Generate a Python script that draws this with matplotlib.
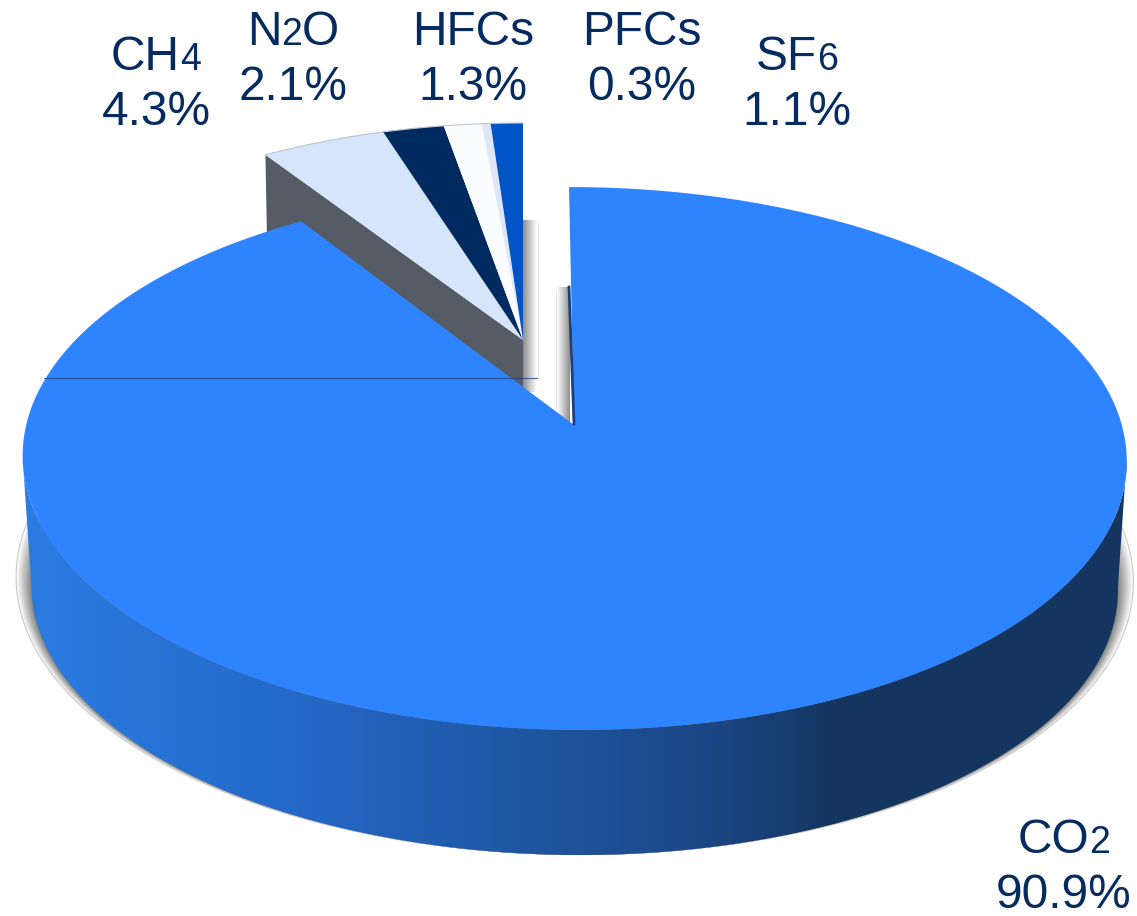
import re
import numpy as np
import matplotlib
matplotlib.use('Agg')
import matplotlib.pyplot as plt
from matplotlib.patches import Polygon
from matplotlib.colors import LinearSegmentedColormap

# ---- data ----
gases = ['CO2', 'CH4', 'N2O', 'HFCs', 'PFCs', 'SF6']
shares = [90.9, 4.3, 2.1, 1.3, 0.3, 1.1]
slice_colors = ['#2E84FF', '#D6E5FB', '#002B60', '#FBFCFE', '#DEE7F8', '#0054C5']
label_centers = [1064, 156, 293, 473, 642, 797]
label_baselines = [853, 70, 45, 45, 45, 70]

# ---- styling / geometry ----
W, H = 1137, 916
TEXT = '#062B60'
FONT = ['Liberation Sans', 'DejaVu Sans']
SIZE, SMALL = 34.5, 27
LINE_GAP = 55


def project(theta, ax0, ay0, bx, by, k, skew=0.0, scale=1.0):
    x, d = np.sin(theta), np.cos(theta)
    s = 1 / (1 + k * d)
    return np.column_stack((ax0 + scale * (bx * x - skew * d) * s,
                            ay0 - scale * by * d * s))


def main_pie(theta, ay0=425.0, scale=1.0):
    return project(theta, 574.0, ay0, 547.8, 267.3, 0.1233, 5.6, scale)


def side_pie(theta):
    return project(theta, 523.0, 340.0, 516.0, 238.7, 0.10)


fig = plt.figure(figsize=(W / 100, H / 100), dpi=100, facecolor='white')
ax = fig.add_axes([0, 0, 1, 1])
ax.set_axis_off()

fracs = np.array(shares) / sum(shares)
edges = np.concatenate(([0], np.cumsum(fracs))) * 2 * np.pi

# ---- soft shadow under the disc (front part only) ----
tt = np.linspace(np.radians(70), np.radians(290), 300)
N = 16
for i in range(N):
    f = i / (N - 1)
    pts = main_pie(tt, ay0=546 + (555 - 546) * f, scale=1.012 + (0.984 - 1.012) * f)
    g = 1.0 - 0.50 * f
    ax.add_patch(Polygon(pts, closed=True, fc=(g, g, g), ec='none', zorder=1))
ax.plot(*main_pie(tt, ay0=546, scale=1.012).T, color='#C8C8C8', lw=0.8, zorder=1)

# ---- disc wall with horizontal gradient ----
wall_cmap = LinearSegmentedColormap.from_list('wall', [
    (0.0, '#2B7CE2'), (0.25, '#2468C8'), (0.47, '#1E559F'),
    (0.63, '#1B4684'), (0.74, '#14355F'), (1.0, '#15365F')])
front = np.linspace(np.radians(97), np.radians(263), 200)
wall_pts = np.vstack((main_pie(front, ay0=555, scale=0.984),
                      main_pie(front[::-1])))
wall = Polygon(wall_pts, closed=True, fc='none', ec='none', zorder=2)
ax.add_patch(wall)
grad = ax.imshow(np.linspace(0, 1, 512)[None, :], cmap=wall_cmap, aspect='auto',
                 extent=(21, 1127, 860, 450), zorder=2)
grad.set_clip_path(wall)

# ---- shadows beside the pulled-out slices ----
grey_cmap = LinearSegmentedColormap.from_list('g', ['#8E8E8E', '#FFFFFF'])
for (x0, x1, y0, y1, flip) in [(523, 537, 220, 392, False), (557, 570, 287, 424, True)]:
    data = np.linspace(0, 1, 64)[None, :]
    ax.imshow(data[:, ::-1] if flip else data, cmap=grey_cmap, aspect='auto',
              extent=(x0, x1, y1, y0), zorder=2)
ax.plot([538, 538], [222, 378], color='#E6E6E6', lw=0.7, zorder=2)
ax.plot([556, 556], [290, 410], color='#E6E6E6', lw=0.7, zorder=2)

# ---- grey cut face and small pulled-out slices ----
corner = side_pie(np.array([edges[1]]))[0]
apex = np.array([523.0, 340.0])
face = np.array([corner, apex, apex + [0, 110], corner + [2, 110]])
ax.add_patch(Polygon(face, closed=True, fc='#555C66', ec='none', zorder=3))
for i in range(1, len(gases)):
    th = np.linspace(edges[i], edges[i + 1], 30)
    arc = side_pie(th)
    ax.add_patch(Polygon(np.vstack((apex, arc)), closed=True,
                         fc=slice_colors[i], ec='none', zorder=3))
    ax.plot(arc[:, 0], arc[:, 1], color='#BFC4CC', lw=0.8, zorder=3)

# ---- large slice top face ----
th = np.linspace(edges[0], edges[1], 500)
top = np.vstack(([[574.0, 425.0]], main_pie(th)))
ax.add_patch(Polygon(top, closed=True, fc=slice_colors[0], ec='none', zorder=4))

# thin details
ax.plot([569, 574], [287, 424], color='#1B3F78', lw=2.0, zorder=5)
ax.plot([44, 537], [378, 378], color='#1B3F78', lw=0.8, alpha=0.75, zorder=5)

ax.set_xlim(0, W)
ax.set_ylim(H, 0)

# ---- labels: digits inside formulae are set smaller on the baseline ----
renderer = fig.canvas.get_renderer()


def draw_line(cx, base, parts):
    made = [ax.text(0, base, s, fontsize=z, color=TEXT, family=FONT,
                    va='baseline', ha='left', zorder=6) for s, z in parts]
    widths = [t.get_window_extent(renderer).width for t in made]
    x = cx - sum(widths) / 2
    for t, w in zip(made, widths):
        t.set_x(x)
        x += w


for name, val, cx, base in zip(gases, shares, label_centers, label_baselines):
    runs = [(p, SMALL if p.isdigit() else SIZE)
            for p in re.split(r'(\d)', name) if p]
    draw_line(cx, base, runs)
    draw_line(cx, base + LINE_GAP, [(f'{val:.1f}%', SIZE)])

fig.savefig('out.png', dpi=100, facecolor='white')
